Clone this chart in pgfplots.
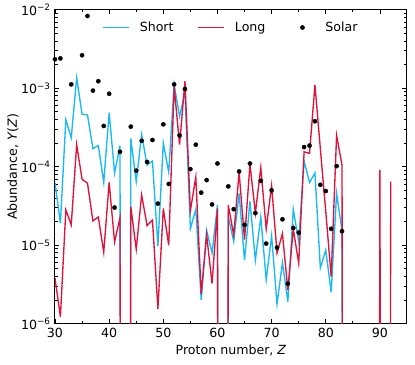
\documentclass[border=0pt]{standalone}
\usepackage{fontspec}
\setmainfont{DejaVu Sans}
\usepackage{pgfplots}
\usepackage{pgfplotstable}
\pgfplotsset{compat=1.18}
\definecolor{shortc}{RGB}{25,185,245}
\definecolor{longc}{RGB}{220,20,60}

% zero abundances are stored as 1e-40 so the line falls off the axis
\pgfplotstableread{
Z Y
30 6.31e-5
31 1.91e-5
32 3.98e-4
33 2.34e-4
34 1.35e-3
35 4.68e-4
36 4.57e-4
37 1.70e-4
38 1.86e-4
39 6.31e-5
40 4.90e-4
41 8.32e-5
42 1.86e-4
43 1e-40
44 2.29e-4
45 6.46e-5
46 2.57e-4
47 1.05e-4
48 1.18e-4
49 9.77e-6
50 2.00e-4
51 8.51e-5
52 1.12e-3
53 4.37e-4
54 8.91e-4
55 1.62e-5
56 2.88e-5
57 2.00e-6
58 1.55e-5
59 7.94e-6
60 3.24e-5
61 1e-40
62 2.29e-5
63 1.12e-5
64 4.57e-5
65 6.46e-6
66 3.63e-5
67 6.46e-6
68 2.29e-5
69 3.63e-6
70 1.32e-5
71 1.78e-6
72 6.03e-6
73 1.91e-6
74 2.88e-5
75 1.12e-5
76 1.18e-4
77 6.31e-5
78 8.32e-5
79 5.13e-6
80 8.71e-6
81 2.51e-6
82 4.57e-5
83 1.55e-5
84 1e-40
85 1e-40
86 1e-40
87 1e-40
88 1e-40
89 1e-40
90 9.12e-6
91 1e-40
92 1e-40
}\shortdata

\pgfplotstableread{
Z Y
30 3.80e-6
31 1.23e-6
32 2.82e-5
33 1.82e-5
34 1.91e-4
35 6.92e-5
36 6.17e-5
37 2.04e-5
38 2.29e-5
39 8.13e-6
40 6.31e-5
41 1.10e-5
42 2.24e-5
43 1e-40
44 3.09e-5
45 8.91e-6
46 4.37e-5
47 1.78e-5
48 2.09e-5
49 1.55e-6
50 2.95e-5
51 1.00e-5
52 1.05e-3
53 1.91e-4
54 1.23e-3
55 2.75e-5
56 7.41e-5
57 2.40e-6
58 1.35e-5
59 3.24e-6
60 2.95e-5
61 1e-40
62 3.24e-5
63 1.35e-5
64 8.51e-5
65 1.18e-5
66 1.07e-4
67 2.57e-5
68 9.77e-5
69 1.62e-5
70 5.75e-5
71 7.94e-6
72 1.41e-5
73 2.69e-6
74 1.62e-5
75 5.89e-6
76 1.55e-4
77 1.48e-4
78 1.10e-3
79 1.70e-4
80 2.69e-5
81 3.98e-6
82 2.51e-4
83 1.05e-4
84 1e-40
85 1e-40
86 1e-40
87 1e-40
88 1e-40
89 1e-40
90 9.12e-5
91 1e-40
92 6.46e-5
}\longdata

\pgfplotstableread{
Z Y
30 2.34e-3
31 2.40e-3
33 1.12e-3
35 2.63e-3
36 8.32e-3
37 9.33e-4
38 1.23e-3
39 3.31e-4
40 8.51e-4
41 3.02e-5
42 1.55e-4
44 3.24e-4
45 8.91e-5
46 2.14e-4
47 1.15e-4
48 2.19e-4
49 3.39e-5
50 3.47e-4
51 6.03e-5
52 1.12e-3
53 2.51e-4
54 9.77e-4
55 9.33e-5
56 1.91e-4
57 4.68e-5
58 6.76e-5
59 3.31e-5
60 1.10e-4
62 5.62e-5
63 2.88e-5
64 8.71e-5
65 1.82e-5
66 1.10e-4
67 2.57e-5
68 6.61e-5
69 1.05e-5
70 5.01e-5
71 9.33e-6
72 2.14e-5
73 3.24e-6
74 1.66e-5
75 1.45e-5
76 1.78e-4
77 1.86e-4
78 3.80e-4
79 5.89e-5
80 4.90e-5
81 1.62e-5
82 1.02e-4
83 1.51e-5
}\solardata

\begin{document}
\fontsize{12.6}{15}\selectfont
\begin{tikzpicture}
\begin{axis}[
  scale only axis,
  width=352pt, height=314pt,
  ymode=log,
  xmin=30, xmax=95, ymin=1e-6, ymax=1e-2,
  xtick={30,40,...,90},
  minor xtick={35,45,...,85},
  ytick={1e-6,1e-5,1e-4,1e-3,1e-2},
  yticklabels={10\textsuperscript{−6},10\textsuperscript{−5},10\textsuperscript{−4},10\textsuperscript{−3},10\textsuperscript{−2}},
  minor ytick={2e-6,3e-6,4e-6,5e-6,6e-6,7e-6,8e-6,9e-6,
               2e-5,3e-5,4e-5,5e-5,6e-5,7e-5,8e-5,9e-5,
               2e-4,3e-4,4e-4,5e-4,6e-4,7e-4,8e-4,9e-4,
               2e-3,3e-3,4e-3,5e-3,6e-3,7e-3,8e-3,9e-3},
  /pgf/number format/assume math mode=true,
  tick align=inside,
  major tick length=4.5pt,
  minor tick length=2.6pt,
  tick style={black, line width=0.8pt},
  axis line style={line width=1pt},
  tick label style={font=\fontsize{12.6}{15}\selectfont},
  label style={font=\fontsize{12.6}{15}\selectfont},
  xlabel={Proton number, \textit{Z}},
  ylabel={Abundance, \textit{Y}(\textit{Z})},
  xlabel style={yshift=1pt},
  ylabel style={yshift=-6pt},
  legend columns=3,
  legend style={draw=none, fill=none, at={(0.5,0.975)}, anchor=north,
    font=\fontsize{12.6}{15}\selectfont,
    /tikz/every odd column/.append style={column sep=8pt},
    /tikz/every even column/.append style={column sep=22pt}},
]
\addplot[shortc, line width=1.35pt, no marks,
  legend image code/.code={\draw[shortc, line width=1.35pt] (0pt,0pt) -- (26pt,0pt);}]
  table[x=Z, y=Y] {\shortdata};
\addlegendentry{Short}
\addplot[longc, line width=1.35pt, no marks,
  legend image code/.code={\draw[longc, line width=1.35pt] (0pt,0pt) -- (26pt,0pt);}]
  table[x=Z, y=Y] {\longdata};
\addlegendentry{Long}
\addplot[only marks, mark=*, mark size=2.1pt, black,
  legend image code/.code={\path[draw=none, fill=none] (0pt,-1pt) rectangle (26pt,1pt); \fill[black] (13pt,0pt) circle (2.1pt);}]
  table[x=Z, y=Y] {\solardata};
\addlegendentry{Solar}
\end{axis}
\path ([shift={(-55pt,-41pt)}]current axis.south west) rectangle ([shift={(8pt,8pt)}]current axis.north east);
\end{tikzpicture}
\end{document}
